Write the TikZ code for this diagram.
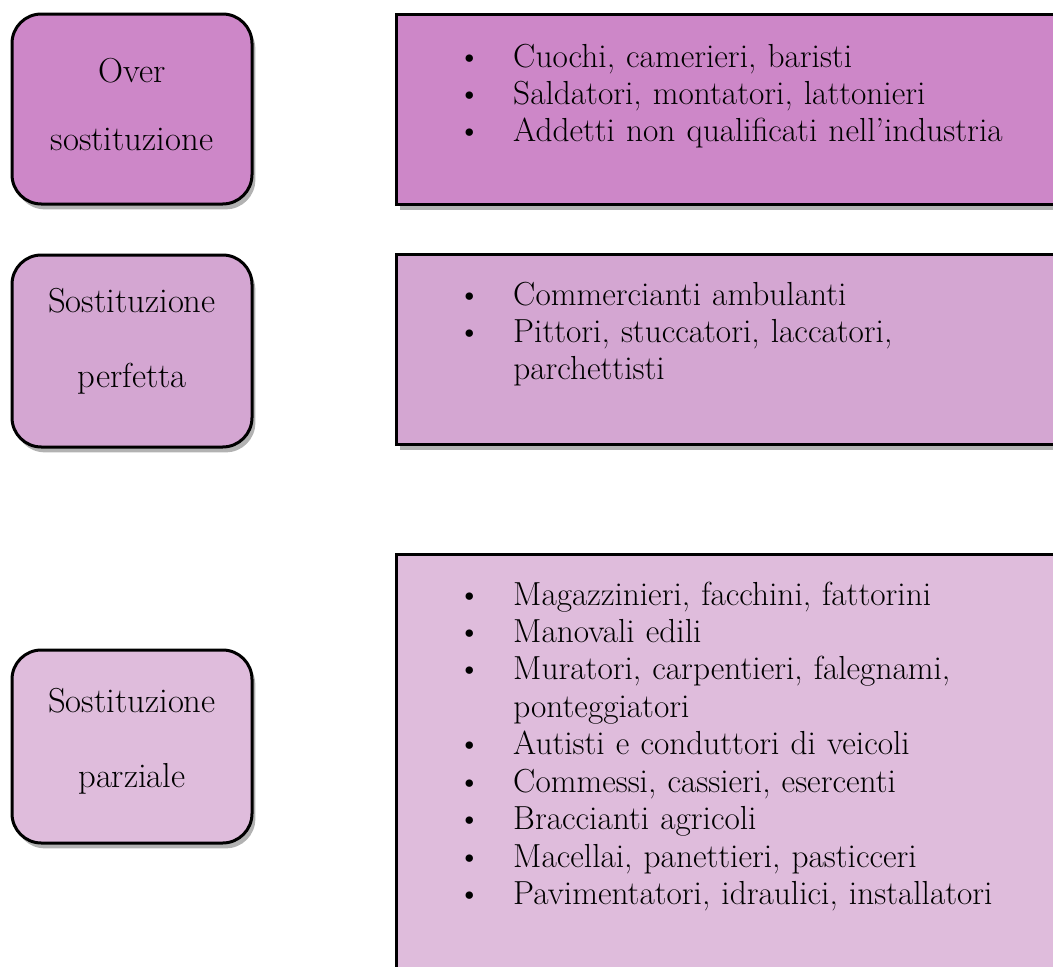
\documentclass[tikz,border=0pt]{standalone}
\usepackage{tikz}
\usetikzlibrary{positioning, shadows}
\definecolor{overcol}{HTML}{CD87C8}
\definecolor{perfcol}{HTML}{D4A6D2}
\definecolor{parzcol}{HTML}{DFBCDC}
\newcommand{\itm}{\leavevmode\llap{\textbullet\hspace{24pt}}}

\begin{document}
\begin{tikzpicture}[x=0.75pt, y=-0.75pt,
  boxshadow/.style={drop shadow={shadow xshift=2.5pt, shadow yshift=-4pt, fill=black, opacity=0.3}},
  catbox/.style={draw, line width=2.25pt, rounded corners=22pt, minimum width=180pt, boxshadow},
  listbox/.style={draw, line width=2.25pt, anchor=north west, minimum width=525pt, boxshadow},
  cattext/.style={anchor=base, align=center, inner sep=0pt, font=\fontsize{26}{29}\selectfont},
  listtext/.style={anchor=base west, align=left, text width=440pt, inner sep=0pt, font=\fontsize{25}{28.1}\selectfont}]
  \clip (0,0) rectangle (1053,967);

  % categorie
  \node[catbox, fill=overcol, minimum height=142.5pt] (over) at (132,109) {};
  \node[catbox, fill=perfcol, minimum height=144pt] (perf) at (132,351) {};
  \node[catbox, fill=parzcol, minimum height=144.75pt] (parz) at (132,746.5) {};
  \node[cattext] (overtxt) at (132,150) {Over\\[22pt]sostituzione};
  \node[cattext] (perftxt) at (132,387) {Sostituzione\\[27pt]perfetta};
  \node[cattext] (parztxt) at (132,787) {Sostituzione\\[27pt]parziale};

  % professioni
  \node[listbox, fill=overcol, minimum height=142.5pt] (overlist) at (395,13) {};
  \node[listbox, fill=perfcol, minimum height=142.5pt] (perflist) at (395,253) {};
  \node[listbox, fill=parzcol, minimum height=337.5pt] (parzlist) at (395,553) {};

  \node[listtext] (overitems) at (513,67) {\itm Cuochi, camerieri, baristi\\
    \itm Saldatori, montatori, lattonieri\\
    \itm Addetti non qualificati nell’industria};
  \node[listtext] (perfitems) at (513,305) {\itm Commercianti ambulanti\\
    \itm Pittori, stuccatori, laccatori,\\
    parchettisti};
  \node[listtext] (parzitems) at (513,605) {\itm Magazzinieri, facchini, fattorini\\
    \itm Manovali edili\\
    \itm Muratori, carpentieri, falegnami,\\
    ponteggiatori\\
    \itm Autisti e conduttori di veicoli\\
    \itm Commessi, cassieri, esercenti\\
    \itm Braccianti agricoli\\
    \itm Macellai, panettieri, pasticceri\\
    \itm Pavimentatori, idraulici, installatori};
\end{tikzpicture}
\end{document}
